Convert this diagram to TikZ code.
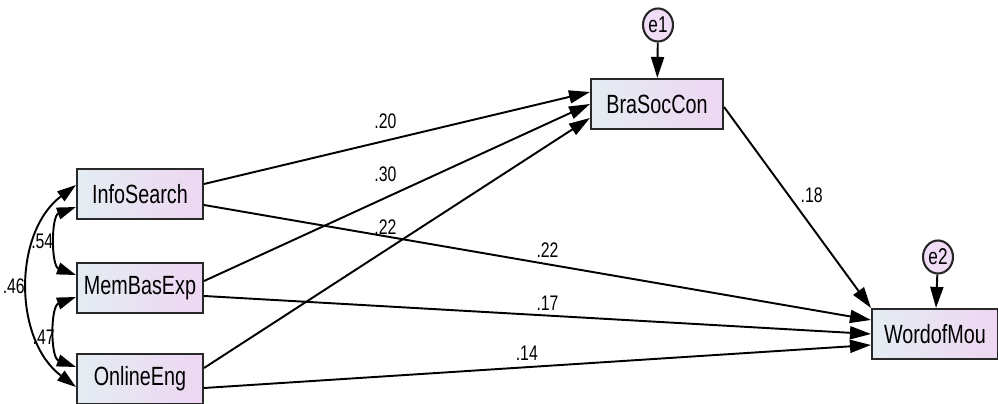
\documentclass[tikz,border=0pt]{standalone}
\usepackage{fontspec}
\setmainfont{Liberation Sans}[FakeStretch=0.75]
\usepackage{tikz}
\usetikzlibrary{positioning,arrows.meta,shapes.geometric}

\definecolor{boxleft}{RGB}{228,237,242}
\definecolor{boxright}{RGB}{238,214,242}
\definecolor{errfill}{RGB}{240,220,245}
\definecolor{linegrey}{RGB}{40,40,40}

\begin{document}
\begin{tikzpicture}[
    x=0.02cm, y=-0.02cm,
    var/.style={draw=linegrey, line width=1.2pt, left color=boxleft, right color=boxright,
        minimum width=2.52cm, minimum height=1cm, font=\fontsize{15}{17}\selectfont},
    err/.style={draw=linegrey, line width=1.2pt, ellipse, fill=errfill, inner sep=0pt,
        minimum width=0.6cm, minimum height=0.66cm, font=\fontsize{13}{15}\selectfont},
    reg/.style={-{Triangle[length=0.42cm,width=0.26cm]}, line width=1.1pt},
    cov/.style={{Triangle[length=0.38cm,width=0.24cm]}-{Triangle[length=0.38cm,width=0.24cm]}, line width=1.1pt},
    coef/.style={font=\fontsize{12}{14}\selectfont, inner sep=0pt}
]
\useasboundingbox (0,0) rectangle (998,404);

% Nodes
\node[var] (info) at (140,194) {InfoSearch};
\node[var] (memb) at (140,288) {MemBasExp};
\node[var] (onl) at (140,379) {OnlineEng};
\node[var, minimum width=2.64cm] (brand) at (657,104) {BraSocCon};
\node[var] (word) at (935,334) {WordofMou};
\node[err] (e1) at (658,25) {e1};
\node[err] (e2) at (938,257) {e2};

% Errors
\draw[reg] (e1) -- (brand);
\draw[reg] (e2) -- (word);

% Paths with labels
\draw[reg] ([yshift=0.2cm]info.east) -- node[coef, pos=0.47, yshift=0.4cm]
    {.20} ([yshift=0.24cm]brand.west);

\draw[reg] ([yshift=0.14cm]memb.east) -- node[coef, pos=0.47, yshift=0.47cm]
    {.30} (brand.west);

\draw[reg] ([yshift=0.22cm]onl.east) -- node[coef, pos=0.47, yshift=0.46cm]
    {.22} ([yshift=-0.28cm]brand.west);

\draw[reg] ([yshift=-0.22cm]info.east) -- node[coef, pos=0.515, yshift=0.28cm]
    {.22} ([yshift=0.28cm]word.west);

\draw[reg] ([yshift=-0.16cm]memb.east) -- node[coef, pos=0.515, yshift=0.25cm]
    {.17} (word.west);

\draw[reg] ([yshift=-0.18cm]onl.east) -- node[coef, pos=0.484, yshift=0.28cm]
    {.14} ([yshift=-0.22cm]word.west);

\draw[reg] ([yshift=-0.06cm]brand.east) -- node[coef, pos=0.44, xshift=0.46cm]
    {.18} (word.north west);

% Covariances
\draw[cov] ([yshift=-0.26cm]info.west) to[out=200, in=160]
    node[coef, xshift=-0.3cm] {.54} ([yshift=0.26cm]memb.west);

\draw[cov] ([yshift=-0.18cm]memb.west) to[out=200, in=160]
    node[coef, xshift=-0.26cm, yshift=-0.1cm] {.47} ([yshift=0.24cm]onl.west);

\draw[cov] ([yshift=0.18cm]info.west) to[out=217, in=143]
    node[coef, xshift=-0.3cm] {.46} ([yshift=-0.16cm]onl.west);

\end{tikzpicture}
\end{document}
